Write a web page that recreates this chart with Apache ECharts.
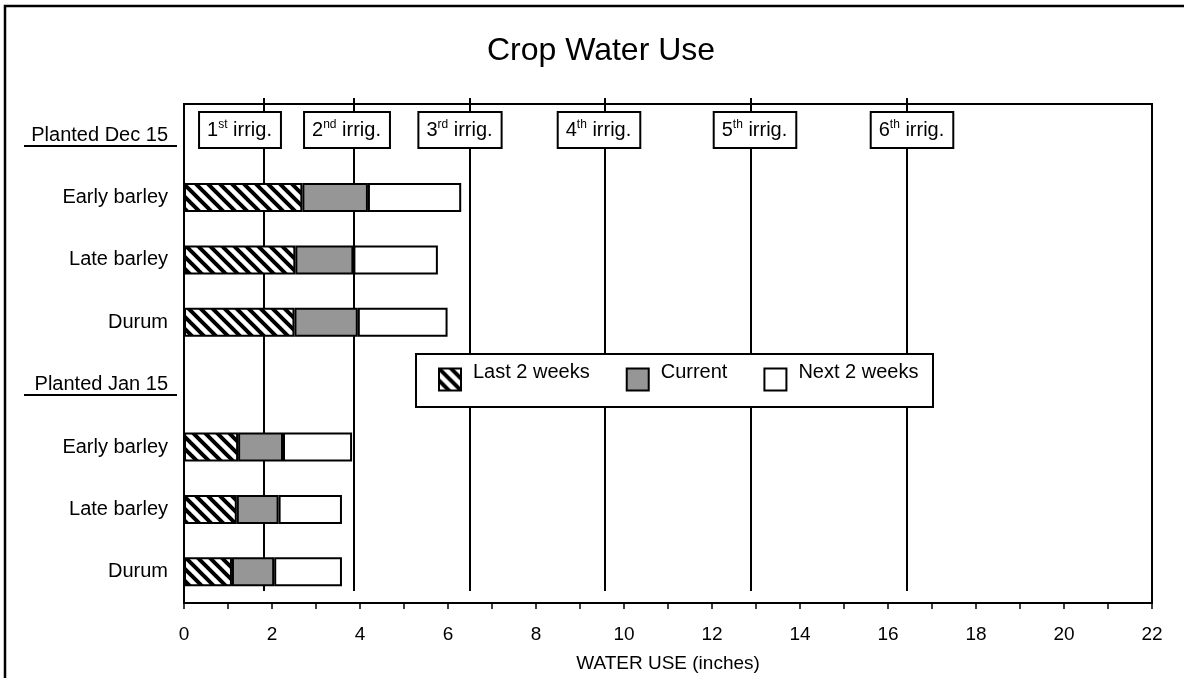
<!DOCTYPE html>
<html>
<head>
<meta charset="utf-8">
<script src="https://cdn.jsdelivr.net/npm/echarts@6/dist/echarts.min.js"></script>
<style>
  html, body { margin: 0; padding: 0; background: #fff; }
  #chart { width: 1184px; height: 678px; }
</style>
</head>
<body>
<div id="chart"></div>
<script>
// ---------- DATA ----------
const categories = ['Planted Dec 15', 'Early barley', 'Late barley', 'Durum',
                    'Planted Jan 15', 'Early barley', 'Late barley', 'Durum'];
const lastTwoWeeks = [null, 2.69, 2.53, 2.51, null, 1.23, 1.20, 1.09];
const currentUse   = [null, 1.49, 1.32, 1.44, null, 1.02, 0.95, 0.96];
const nextTwoWeeks = [null, 2.12, 1.92, 2.04, null, 1.57, 1.44, 1.54];
const irrigationValues = [1.81, 3.86, 6.49, 9.56, 12.89, 16.43];
const irrigationNames  = ['1st', '2nd', '3rd', '4th', '5th', '6th'];
const seriesNames = ['Last 2 weeks', 'Current', 'Next 2 weeks'];
const axisTitle = 'WATER USE (inches)';
const chartTitle = 'Crop Water Use';

// ---------- STYLE ----------
const FONT = "'Liberation Sans', Arial, sans-serif";
// horizontal nudges (px) of the irrigation boxes relative to their lines
const irrigBoxShift = [-24, -7, -10, -6, 4, 5];

function makeHatch() {
  const P = 12;
  const c = document.createElement('canvas');
  c.width = P; c.height = P;
  const g = c.getContext('2d');
  g.fillStyle = '#fff';
  g.fillRect(0, 0, P, P);
  g.strokeStyle = '#000';
  g.lineWidth = 4;
  g.beginPath();
  g.moveTo(-P, -P); g.lineTo(2 * P, 2 * P);
  g.moveTo(-P, 0); g.lineTo(P, 2 * P);
  g.moveTo(0, -P); g.lineTo(2 * P, P);
  g.stroke();
  return c;
}
const hatch = { image: makeHatch(), repeat: 'repeat' };

const headerRows = categories
  .map((c, i) => (c.indexOf('Planted') === 0 ? [0, i] : null))
  .filter(d => d);

const chart = echarts.init(document.getElementById('chart'), null, { renderer: 'canvas' });

const barCommon = {
  type: 'bar',
  stack: 'use',
  barWidth: 29,
  z: 3,
  emphasis: { disabled: true }
};

const option = {
  animation: false,
  backgroundColor: '#fff',
  textStyle: { fontFamily: FONT, color: '#000' },
  title: {
    text: chartTitle,
    left: 596,
    textAlign: 'center',
    top: 30,
    textStyle: { fontFamily: FONT, fontSize: 32, fontWeight: 'normal', color: '#000' }
  },
  graphic: [
    { type: 'rect', z: 0, shape: { x: 5, y: 6, width: 1300, height: 800 },
      style: { fill: 'none', stroke: '#000', lineWidth: 2.5 } },
    { type: 'rect', z: 10, shape: { x: 416, y: 354, width: 517, height: 53 },
      style: { fill: '#fff', stroke: '#000', lineWidth: 2 } }
  ],
  legend: {
    z: 11,
    data: seriesNames,
    left: 438,
    top: 362,
    padding: 0,
    icon: 'rect',
    itemWidth: 22,
    itemHeight: 22,
    itemGap: 36,
    selectedMode: false,
    formatter: function (name) { return '{t|' + name + '}'; },
    textStyle: {
      fontFamily: FONT, fontSize: 20, color: '#000',
      rich: { t: { fontFamily: FONT, fontSize: 20, color: '#000', lineHeight: 22, padding: [0, 0, 15, 7] } }
    }
  },
  grid: {
    left: 184, top: 104, right: 32, bottom: 74,
    show: true, borderColor: '#000', borderWidth: 2, backgroundColor: '#fff'
  },
  xAxis: {
    type: 'value',
    min: 0, max: 22, interval: 2,
    axisLine: { show: false },
    axisTick: { show: true, length: 6, lineStyle: { color: '#000', width: 1.5 } },
    minorTick: { show: true, splitNumber: 2, length: 6, lineStyle: { color: '#000', width: 1.5 } },
    splitLine: { show: false },
    axisLabel: { fontFamily: FONT, fontSize: 19, color: '#000', margin: 22 },
    name: axisTitle,
    nameLocation: 'middle',
    nameGap: 51,
    nameTextStyle: { fontFamily: FONT, fontSize: 19, color: '#000' }
  },
  yAxis: {
    type: 'category',
    inverse: true,
    data: categories,
    axisLine: { show: false },
    axisTick: { show: false },
    splitLine: { show: false },
    axisLabel: { fontFamily: FONT, fontSize: 20, color: '#000', margin: 16 }
  },
  series: [
    Object.assign({}, barCommon, { name: seriesNames[0], data: lastTwoWeeks,
      itemStyle: { color: hatch, borderColor: '#000', borderWidth: 2 } }),
    Object.assign({}, barCommon, { name: seriesNames[1], data: currentUse,
      itemStyle: { color: '#969696', borderColor: '#000', borderWidth: 2 } }),
    Object.assign({}, barCommon, { name: seriesNames[2], data: nextTwoWeeks,
      itemStyle: { color: '#ffffff', borderColor: '#000', borderWidth: 2 } }),
    {
      type: 'custom',
      name: 'irrigations',
      z: 1,
      silent: true,
      clip: false,
      encode: { x: 0, y: 1 },
      data: irrigationValues.map(v => [v, 0]),
      renderItem: function (params, api) {
        const i = params.dataIndex;
        const cs = params.coordSys;
        const x = Math.round(api.coord([api.value(0), 0])[0]);
        const nm = irrigationNames[i];
        const num = nm.replace(/\D+$/, '');
        const suf = nm.slice(num.length);
        return {
          type: 'group',
          children: [
            { type: 'line', shape: { x1: x, y1: cs.y - 6, x2: x, y2: cs.y + cs.height - 12 },
              style: { stroke: '#000', lineWidth: 2 } },
            { type: 'text', x: x + irrigBoxShift[i], y: cs.y + 26,
              style: {
                text: '{n|' + num + '}{s|' + suf + '}{n| irrig.}',
                align: 'center', verticalAlign: 'middle',
                backgroundColor: '#fff', borderColor: '#000', borderWidth: 2,
                padding: [6, 8, 6, 7],
                rich: {
                  n: { fontFamily: FONT, fontSize: 20, lineHeight: 22, fill: '#000', color: '#000' },
                  s: { fontFamily: FONT, fontSize: 12, lineHeight: 12, verticalAlign: 'top', fill: '#000', color: '#000' }
                }
              } }
          ]
        };
      }
    },
    {
      type: 'custom',
      name: 'headers',
      z: 1,
      silent: true,
      clip: false,
      encode: { x: 0, y: 1 },
      data: headerRows,
      renderItem: function (params, api) {
        const cs = params.coordSys;
        const y = Math.round(api.coord([0, api.value(1)])[1] + 10.5);
        return { type: 'line', shape: { x1: cs.x - 160, y1: y, x2: cs.x - 7, y2: y },
                 style: { stroke: '#000', lineWidth: 2 } };
      }
    }
  ]
};
chart.setOption(option);
</script>
</body>
</html>
